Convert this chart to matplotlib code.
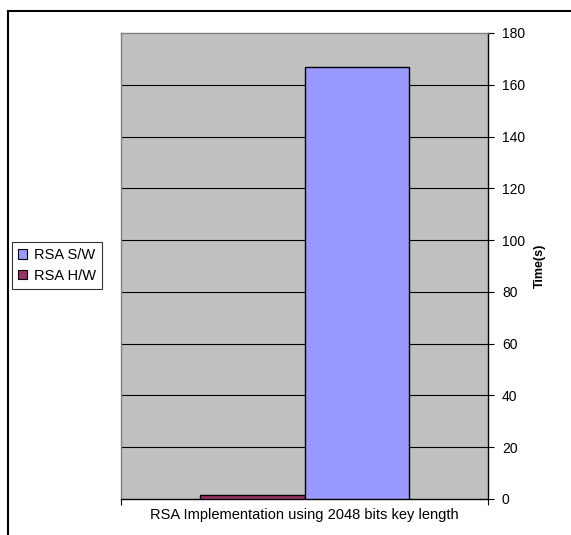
import matplotlib
matplotlib.use("Agg")
import matplotlib.pyplot as plt
from matplotlib.lines import Line2D
from matplotlib.patches import Patch

plt.rcParams['font.family'] = ['Liberation Sans', 'DejaVu Sans']

# Data
series = ["RSA H/W", "RSA S/W"]
times = [1.7, 166.7]
colors = ["#993366", "#9999FF"]
legend_order = ["RSA S/W", "RSA H/W"]
yticks = [0, 20, 40, 60, 80, 100, 120, 140, 160, 180]
xlabel = "RSA Implementation using 2048 bits key length"
ylabel = "Time(s)"

W, H = 571, 535
fig = plt.figure(figsize=(W / 100, H / 100), dpi=100)
fig.patch.set_facecolor("white")

ax = fig.add_axes([121 / W, 1 - 499 / H, (488 - 121) / W, (499 - 33) / H])
ax.set_facecolor("#C0C0C0")

bar_w = 0.285
offsets = [-bar_w / 2, bar_w / 2]
for name, val, col, off in zip(series, times, colors, offsets):
    ax.bar(off, val, width=bar_w, color=col, edgecolor="black",
           linewidth=1.0, zorder=3, label=name)

ax.set_xlim(-0.5, 0.5)
ax.set_ylim(0, 180)

# gridlines
for t in yticks[1:-1]:
    ax.axhline(t, color="black", linewidth=0.8, zorder=1)

# right-hand value axis
ax.yaxis.tick_right()
ax.set_yticks(yticks)
ax.tick_params(axis="y", direction="out", length=4, width=0.8, pad=6,
               labelsize=10, colors="black")
ax.yaxis.set_label_position("right")
ax.set_ylabel(ylabel, fontsize=9, fontweight="bold", rotation=90)
ax.yaxis.set_label_coords((540 - 121) / 367, 0.5)
ax.yaxis.label.set_va("center")

# category axis
ax.set_xticks([-0.5, 0.5])
ax.set_xticklabels(["", ""])
ax.tick_params(axis="x", direction="out", length=4, width=0.8)
ax.set_xlabel(xlabel, fontsize=10.5)
ax.xaxis.set_label_coords(0.5, -0.02)
ax.xaxis.label.set_va("top")

ax.spines["top"].set_color("#808080")
ax.spines["left"].set_color("#808080")
ax.spines["right"].set_color("black")
ax.spines["bottom"].set_color("black")
for s in ax.spines.values():
    s.set_linewidth(1.0)

# legend
handles = [Patch(facecolor=colors[series.index(n)], edgecolor="black",
                 linewidth=0.8) for n in legend_order]
leg = fig.legend(handles, legend_order, loc="center left",
                 bbox_to_anchor=(12 / W, 1 - 265.5 / H), fontsize=10.5,
                 frameon=True, fancybox=False, edgecolor="black",
                 handlelength=0.6, handleheight=0.6, handletextpad=0.5,
                 borderpad=0.4, labelspacing=0.45, borderaxespad=0)
leg.get_frame().set_linewidth(0.8)

# outer chart border (top and left)
fig.add_artist(Line2D([8 / W, 1], [1 - 11 / H, 1 - 11 / H],
                      transform=fig.transFigure, color="black", linewidth=1.5))
fig.add_artist(Line2D([8 / W, 8 / W], [0, 1 - 11 / H],
                      transform=fig.transFigure, color="black", linewidth=1.5))

fig.savefig("out.png", dpi=100)
